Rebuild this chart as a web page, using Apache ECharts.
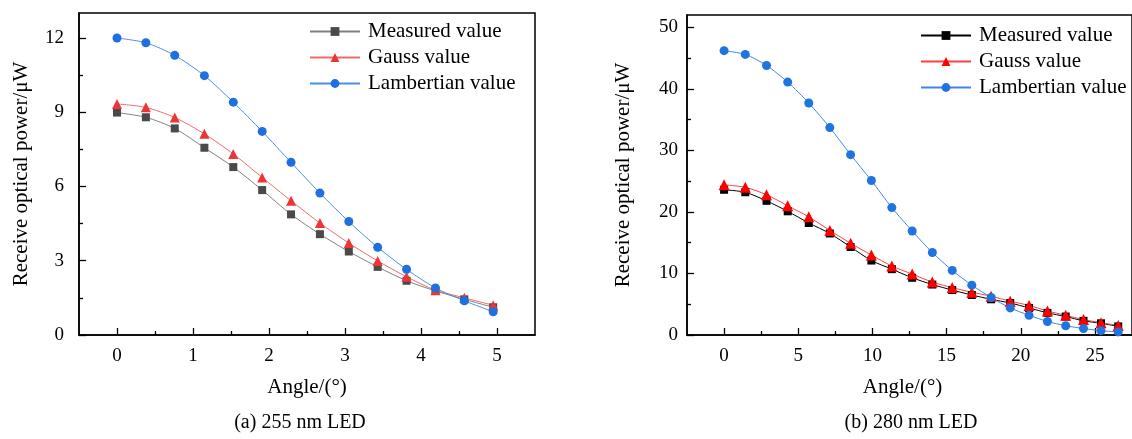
<!DOCTYPE html>
<html>
<head>
<meta charset="utf-8">
<script src="https://cdn.jsdelivr.net/npm/echarts@6/dist/echarts.min.js"></script>
<style>
html,body{margin:0;padding:0;background:#fff;}
.chart{position:absolute;top:0;width:566px;height:439px;}
</style>
</head>
<body>
<div id="chartA" class="chart" style="left:0;"></div>
<div id="chartB" class="chart" style="left:566px;"></div>
<script>
var FONT = '"Liberation Serif", "Times New Roman", serif';
var seriesNames = ['Measured value', 'Gauss value', 'Lambertian value'];

// (a) 255 nm LED
var angleA = [0, 0.38, 0.76, 1.15, 1.53, 1.91, 2.29, 2.67, 3.05, 3.43, 3.81, 4.19, 4.57, 4.95];
var measuredA = [8.98, 8.79, 8.34, 7.56, 6.78, 5.85, 4.87, 4.07, 3.37, 2.75, 2.19, 1.78, 1.44, 1.12];
var gaussA = [9.33, 9.19, 8.78, 8.12, 7.31, 6.36, 5.42, 4.52, 3.71, 2.99, 2.35, 1.81, 1.5, 1.2];
var lambertA = [11.99, 11.8, 11.29, 10.47, 9.4, 8.22, 6.97, 5.73, 4.58, 3.54, 2.65, 1.9, 1.38, 0.94];
var xTicksA = [0, 1, 2, 3, 4, 5];
var xMinorA = [0.5, 1.5, 2.5, 3.5, 4.5];
var yTicksA = [0, 3, 6, 9, 12];
var yMinorA = [1.5, 4.5, 7.5, 10.5];

// (b) 280 nm LED
var angleB = [0, 1.43, 2.86, 4.29, 5.71, 7.13, 8.53, 9.93, 11.31, 12.68, 14.04, 15.38, 16.7, 18.0, 19.29, 20.56, 21.8, 23.03, 24.23, 25.41, 26.57];
var measuredB = [23.6, 23.2, 21.8, 20.1, 18.2, 16.5, 14.3, 12.1, 10.7, 9.3, 8.2, 7.3, 6.5, 5.8, 5.2, 4.4, 3.6, 3.0, 2.3, 1.9, 1.4];
var gaussB = [24.4, 24.0, 22.8, 21.0, 19.2, 17.0, 14.9, 13.0, 11.2, 9.9, 8.6, 7.7, 6.95, 6.3, 5.5, 4.8, 3.9, 3.2, 2.5, 2.0, 1.55];
var lambertB = [46.2, 45.6, 43.8, 41.1, 37.7, 33.7, 29.3, 25.1, 20.7, 16.9, 13.4, 10.5, 8.1, 6.1, 4.4, 3.2, 2.2, 1.5, 1.05, 0.7, 0.5];
var xTicksB = [0, 5, 10, 15, 20, 25];
var xMinorB = [2.5, 7.5, 12.5, 17.5, 22.5];
var yTicksB = [0, 10, 20, 30, 40, 50];
var yMinorB = [5, 15, 25, 35, 45];

function pairs(xs, ys){
	return xs.map(function(x, i){ return [x, ys[i]]; });
}

function lineSeries(name, data, symbol, size, markColor, lineColor){
	return {
		name: name,
		type: 'line',
		data: data,
		symbol: symbol,
		symbolSize: size,
		smooth: 0.25,
		itemStyle: { color: markColor },
		lineStyle: { color: lineColor, width: 1 }
	};
}

// tick-only axis laid over the main one (major or minor ticks)
function tickAxis(pos, min, max, values, len){
	return {
		type: 'value', min: min, max: max, position: pos,
		axisLine: { show: false, onZero: false },
		axisTick: { show: true, inside: true, length: len, customValues: values, lineStyle: { color: '#000', width: 1.3 } },
		axisLabel: { show: false },
		splitLine: { show: false }
	};
}

function buildOption(p){
	var axisLine = { show: true, onZero: false, lineStyle: { color: '#000', width: 1.5 } };
	var labelStyle = { color: '#000', fontFamily: FONT, fontSize: 19 };
	var nameStyle = { color: '#000', fontFamily: FONT, fontSize: 21 };
	return {
		animation: false,
		backgroundColor: '#fff',
		grid: {
			left: p.grid[0], top: p.grid[1], width: p.grid[2], height: p.grid[3],
			show: true, borderColor: '#000', borderWidth: 1.5, backgroundColor: 'transparent'
		},
		legend: {
			data: seriesNames,
			orient: 'vertical',
			left: p.legend[0], top: p.legend[1],
			padding: 0,
			itemWidth: 50, itemHeight: 11, itemGap: p.legend[2],
			textStyle: { color: '#000', fontFamily: FONT, fontSize: 21, padding: [0, 0, 0, 3] }
		},
		xAxis: [{
			type: 'value', min: p.xMin, max: p.xMax, position: 'bottom',
			axisLine: axisLine,
			axisTick: { show: false },
			axisLabel: Object.assign({ customValues: p.xTicks, margin: 12 }, labelStyle),
			splitLine: { show: false },
			name: 'Angle/(°)', nameLocation: 'middle', nameGap: 42,
			nameTextStyle: Object.assign({ padding: p.xNamePad }, nameStyle)
		},
			tickAxis('bottom', p.xMin, p.xMax, p.xTicks, 7),
			tickAxis('bottom', p.xMin, p.xMax, p.xMinor, 4)
		],
		yAxis: [{
			type: 'value', min: 0, max: p.yMax, position: 'left',
			axisLine: axisLine,
			axisTick: { show: false },
			axisLabel: Object.assign({ customValues: p.yTicks, margin: p.yLabelMargin }, labelStyle),
			splitLine: { show: false },
			name: 'Receive optical power/μW', nameLocation: 'middle', nameGap: p.yNameGap,
			nameTextStyle: nameStyle
		},
			tickAxis('left', 0, p.yMax, p.yTicks, 7),
			tickAxis('left', 0, p.yMax, p.yMinor, 4)
		],
		graphic: [{
			type: 'text', x: p.caption[0], y: p.caption[1],
			style: { text: p.caption[2], fill: '#000', font: '20px ' + FONT, align: 'center', verticalAlign: 'middle' }
		}],
		series: p.series
	};
}

var chartA = echarts.init(document.getElementById('chartA'));
chartA.setOption(buildOption({
	grid: [79, 13, 456, 322],
	legend: [309, 21, 5],
	xMin: -0.5, xMax: 5.5, xTicks: xTicksA, xMinor: xMinorA, xNamePad: [0, 0, 0, 0],
	yMax: 13, yTicks: yTicksA, yMinor: yMinorA, yLabelMargin: 15, yNameGap: 47,
	caption: [300, 423, '(a) 255 nm LED'],
	series: [
		lineSeries(seriesNames[0], pairs(angleA, measuredA), 'rect', 8, '#4a4a4a', '#808080'),
		lineSeries(seriesNames[1], pairs(angleA, gaussA), 'triangle', 10, '#ee3535', '#f06a6a'),
		lineSeries(seriesNames[2], pairs(angleA, lambertA), 'circle', 9, '#1f6fe0', '#4a90e6')
	]
}));

var chartB = echarts.init(document.getElementById('chartB'));
chartB.setOption(buildOption({
	grid: [121, 15, 452, 320],
	legend: [354, 25, 5],
	xMin: -2.5, xMax: 27.5, xTicks: xTicksB, xMinor: xMinorB, xNamePad: [0, 14, 0, 0],
	yMax: 52, yTicks: yTicksB, yMinor: yMinorB, yLabelMargin: 9, yNameGap: 53,
	caption: [345, 423, '(b) 280 nm LED'],
	series: [
		lineSeries(seriesNames[0], pairs(angleB, measuredB), 'rect', 8, '#000000', '#000000'),
		lineSeries(seriesNames[1], pairs(angleB, gaussB), 'triangle', 11, '#ff0000', '#ff4040'),
		lineSeries(seriesNames[2], pairs(angleB, lambertB), 'circle', 9, '#1f74e0', '#3d88e6')
	]
}));
</script>
</body>
</html>
